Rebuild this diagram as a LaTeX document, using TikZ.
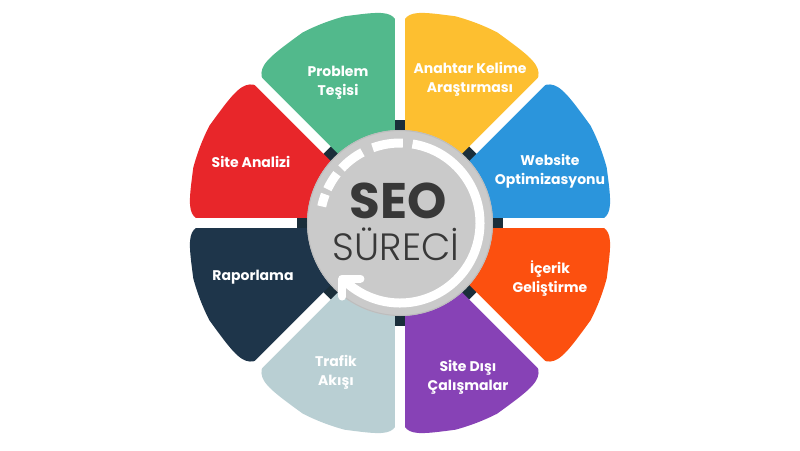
\documentclass[tikz,border=0pt]{standalone}
\usepackage{fontspec}
\setmainfont{Poppins}
\newfontfamily\lightfont{Poppins Light}
\definecolor{cblue}{HTML}{2B95DC}
\definecolor{cyellow}{HTML}{FDBF30}
\definecolor{cgreen}{HTML}{52B98C}
\definecolor{cred}{HTML}{E8262A}
\definecolor{cnavy}{HTML}{1E354A}
\definecolor{clight}{HTML}{B9CFD3}
\definecolor{cpurple}{HTML}{8742B6}
\definecolor{corange}{HTML}{FC500F}
\definecolor{cgap}{HTML}{1A2E3A}
\definecolor{cdisc}{HTML}{CACACA}
\definecolor{crim}{HTML}{BDBDBD}
\definecolor{cseo}{HTML}{383838}
\tikzset{
  lab/.style={text=white, align=center, font=\fontsize{14}{19}\selectfont\bfseries},
  gapline/.style={white, line width=10pt},
  gapdark/.style={cgap, line width=10pt},
  ringline/.style={white, line width=9pt},
}
\begin{document}
\begin{tikzpicture}[x=1pt,y=1pt]
\useasboundingbox (-400,-227) rectangle (400,223);
\fill[white] (-400,-227) rectangle (400,223);
% petals: angle/colour/back-distance and arc-offset on clockwise side/back-distance and arc-offset on counter-clockwise side
\foreach \a/\c/\da/\ea/\db/\eb in {
  22.5/cblue/55/15/68/18, 67.5/cyellow/68/18/55/15,
  112.5/cgreen/55/15/68/18, 157.5/cred/68/18/55/15,
  202.5/cnavy/55/15/68/18, 247.5/clight/68/18/55/15,
  292.5/cpurple/55/15/68/18, 337.5/corange/68/18/55/15}{
  \pgfmathsetmacro\ta{\a-22.5}
  \pgfmathsetmacro\tb{\a+22.5}
  \pgfmathsetmacro\tas{\a-22.5+\ea}
  \pgfmathsetmacro\tbs{\a+22.5-\eb}
  \pgfmathsetmacro\ra{214-\da}
  \pgfmathsetmacro\rb{214-\db}
  \fill[\c] (0,0) -- (\ta:\ra) .. controls (\ta:214) .. (\tas:214)
     arc[start angle=\tas, end angle=\tbs, radius=214]
     .. controls (\tb:214) .. (\tb:\rb) -- cycle;
}
% gaps
\foreach \t in {0,45,...,315}{
  \draw[gapline] (\t:103) -- (\t:245);
  \draw[gapdark] (\t:85) -- (\t:103);
}
% central disc
\fill[cdisc] (0,0) circle (93);
\draw[crim, line width=1pt] (0,0) circle (92.5);
\draw[ringline] (81:80) arc[start angle=81, end angle=-136, radius=80];
\foreach \s/\e in {88/110, 118/137, 142/155, 159/168}{
  \draw[ringline] (\s:80) arc[start angle=\s, end angle=\e, radius=80];
}
\coordinate (tip) at (-136:80);
\draw[white, line width=8pt, line cap=round, line join=round]
  ([shift={(18,0)}]tip) -- (tip) -- ([shift={(0,-18)}]tip);
\node[anchor=base, text=cseo, font=\fontsize{50}{50}\selectfont\bfseries, inner sep=0pt] (seo) at (-2,5) {SEO};
\node[anchor=base, text=cseo, font=\fontsize{38}{38}\selectfont\lightfont, inner sep=0pt] (sureci) at (-4,-37) {SÜRECİ};
% labels
\node[lab] (l1) at (-62,140.5) {Problem\\Teşisi};
\node[lab] (l2) at (70,143.5) {Anahtar Kelime\\Araştırması};
\node[lab] (l3) at (-149,61) {Site Analizi};
\node[lab] (l4) at (150,52) {Website\\Optimizasyonu};
\node[lab] (l5) at (-147,-54) {Raporlama};
\node[lab] (l6) at (150,-56) {İçerik\\Geliştirme};
\node[lab] (l7) at (-64,-149.5) {Trafik\\Akışı};
\node[lab] (l8) at (68,-154.5) {Site Dışı\\Çalışmalar};
\end{tikzpicture}
\end{document}
